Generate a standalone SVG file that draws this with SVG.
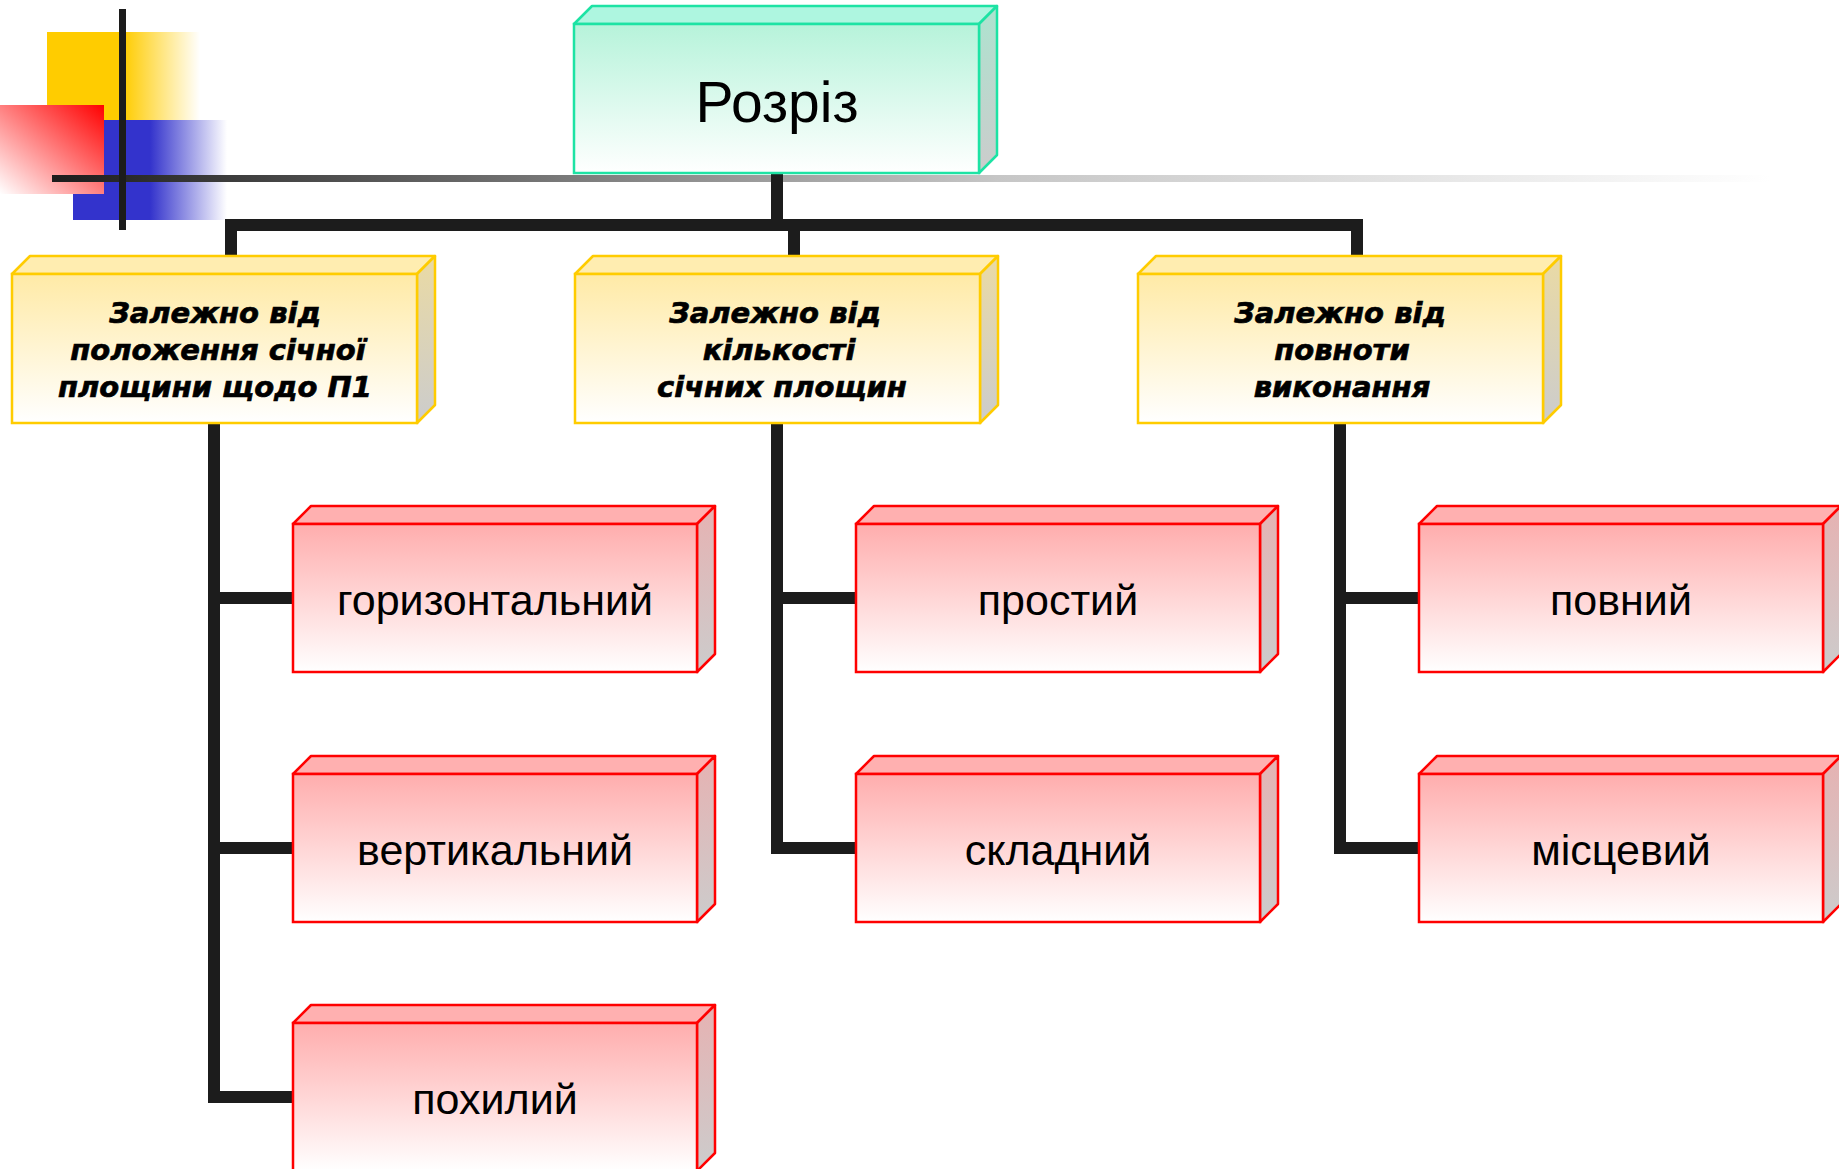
<svg xmlns="http://www.w3.org/2000/svg" width="1839" height="1169" viewBox="0 0 1839 1169">
<defs>
  <linearGradient id="yel" x1="0" y1="0" x2="1" y2="0">
    <stop offset="0" stop-color="#ffcc00"/>
    <stop offset="0.5" stop-color="#ffcc00"/>
    <stop offset="1" stop-color="#ffcc00" stop-opacity="0"/>
  </linearGradient>
  <linearGradient id="blu" x1="0" y1="0" x2="1" y2="0">
    <stop offset="0" stop-color="#3333cc"/>
    <stop offset="0.5" stop-color="#3333cc"/>
    <stop offset="1" stop-color="#3333cc" stop-opacity="0"/>
  </linearGradient>
  <linearGradient id="red" x1="1" y1="0" x2="0" y2="1">
    <stop offset="0" stop-color="#ff0000"/>
    <stop offset="1" stop-color="#ffffff"/>
  </linearGradient>
  <linearGradient id="hline" gradientUnits="userSpaceOnUse" x1="52" y1="0" x2="1770" y2="0">
    <stop offset="0" stop-color="#1c1c1c"/>
    <stop offset="0.3" stop-color="#7a7a7a"/>
    <stop offset="0.55" stop-color="#c6c6c6"/>
    <stop offset="1" stop-color="#ffffff"/>
  </linearGradient>
  <linearGradient id="gFront" x1="0" y1="0" x2="0" y2="1">
    <stop offset="0" stop-color="#b6f3da"/>
    <stop offset="1" stop-color="#ffffff"/>
  </linearGradient>
  <linearGradient id="gSide" x1="0" y1="0" x2="0" y2="1">
    <stop offset="0" stop-color="#ade3cf"/>
    <stop offset="1" stop-color="#cccccc"/>
  </linearGradient>
  <linearGradient id="yFront" x1="0" y1="0" x2="0" y2="1">
    <stop offset="0" stop-color="#ffeaa6"/>
    <stop offset="1" stop-color="#ffffff"/>
  </linearGradient>
  <linearGradient id="ySide" x1="0" y1="0" x2="0" y2="1">
    <stop offset="0" stop-color="#eadaa4"/>
    <stop offset="1" stop-color="#cccccc"/>
  </linearGradient>
  <linearGradient id="rFront" x1="0" y1="0" x2="0" y2="1">
    <stop offset="0" stop-color="#ffadad"/>
    <stop offset="1" stop-color="#ffffff"/>
  </linearGradient>
  <linearGradient id="rSide" x1="0" y1="0" x2="0" y2="1">
    <stop offset="0" stop-color="#e6b2b2"/>
    <stop offset="1" stop-color="#cccccc"/>
  </linearGradient>
</defs>
<style>
  .g .front{fill:url(#gFront);stroke:#1de3a4;stroke-width:2.5}
  .g .top{fill:#aef6e0;stroke:#1de3a4;stroke-width:2.5;stroke-linejoin:round}
  .g .side{fill:url(#gSide);stroke:#1de3a4;stroke-width:2.5;stroke-linejoin:round}
  .y .front{fill:url(#yFront);stroke:#ffcc00;stroke-width:2.5}
  .y .top{fill:#ffedb0;stroke:#ffcc00;stroke-width:2.5;stroke-linejoin:round}
  .y .side{fill:url(#ySide);stroke:#ffcc00;stroke-width:2.5;stroke-linejoin:round}
  .r .front{fill:url(#rFront);stroke:#ff0000;stroke-width:2.5}
  .r .top{fill:#ffb0b0;stroke:#ff0000;stroke-width:2.5;stroke-linejoin:round}
  .r .side{fill:url(#rSide);stroke:#ff0000;stroke-width:2.5;stroke-linejoin:round}
  .conn{fill:none;stroke:#1c1c1c;stroke-width:12;stroke-linejoin:miter;stroke-linecap:butt}
  .t0{font-family:"Liberation Sans",Arial,sans-serif;font-size:57px;fill:#000;text-anchor:middle}
  .t1{font-family:"DejaVu Sans",Verdana,sans-serif;font-size:29px;font-weight:bold;font-style:italic;fill:#000;stroke:#000;stroke-width:0.7;text-anchor:middle}
  .t2{font-family:"Liberation Sans",Arial,sans-serif;font-size:43px;fill:#000;text-anchor:middle}
</style>

<g id="decor">
  <rect x="47" y="32" width="153" height="88" fill="url(#yel)"/>
  <rect x="73" y="120" width="154" height="100" fill="url(#blu)"/>
  <rect x="0" y="105" width="104" height="89" fill="url(#red)"/>
  <rect x="52" y="175" width="1718" height="7" fill="url(#hline)"/>
  <rect x="119" y="9" width="7" height="221" fill="#1c1c1c"/>
</g>

<g id="connectors">
  <path class="conn" d="M777,173 V225"/>
  <path class="conn" d="M231,262 V225 H1357 V262"/>
  <path class="conn" d="M794,225 V262"/>
  <path class="conn" d="M214,423 V1097 H293"/>
  <path class="conn" d="M214,598 H293 M214,848 H293"/>
  <path class="conn" d="M777,423 V848 H856"/>
  <path class="conn" d="M777,598 H856"/>
  <path class="conn" d="M1340,423 V848 H1419"/>
  <path class="conn" d="M1340,598 H1419"/>
</g>

<g id="root" class="g">
  <polygon class="top" points="574,24 592,6 997,6 979,24"/>
  <polygon class="side" points="979,24 997,6 997,155 979,173"/>
  <rect class="front" x="574" y="24" width="405" height="149"/>
  <text class="t0" x="777" y="122">Розріз</text>
</g>

<g id="cat1" class="y">
  <polygon class="top" points="12,274 30,256 435,256 417,274"/>
  <polygon class="side" points="417,274 435,256 435,405 417,423"/>
  <rect class="front" x="12" y="274" width="405" height="149"/>
  <text class="t1" x="215" y="323">Залежно від</text>
  <text class="t1" x="218" y="360">положення січної</text>
  <text class="t1" x="215" y="397">площини щодо П1</text>
</g>

<g id="cat2" class="y">
  <polygon class="top" points="575,274 593,256 998,256 980,274"/>
  <polygon class="side" points="980,274 998,256 998,405 980,423"/>
  <rect class="front" x="575" y="274" width="405" height="149"/>
  <text class="t1" x="775" y="323">Залежно від</text>
  <text class="t1" x="779" y="360">кількості</text>
  <text class="t1" x="782" y="397">січних площин</text>
</g>

<g id="cat3" class="y">
  <polygon class="top" points="1138,274 1156,256 1561,256 1543,274"/>
  <polygon class="side" points="1543,274 1561,256 1561,405 1543,423"/>
  <rect class="front" x="1138" y="274" width="405" height="149"/>
  <text class="t1" x="1340" y="323">Залежно від</text>
  <text class="t1" x="1342" y="360">повноти</text>
  <text class="t1" x="1342" y="397">виконання</text>
</g>

<g id="horizontal" class="r">
  <polygon class="top" points="293,524 311,506 715,506 697,524"/>
  <polygon class="side" points="697,524 715,506 715,654 697,672"/>
  <rect class="front" x="293" y="524" width="404" height="148"/>
  <text class="t2" x="495" y="615">горизонтальний</text>
</g>

<g id="vertical" class="r">
  <polygon class="top" points="293,774 311,756 715,756 697,774"/>
  <polygon class="side" points="697,774 715,756 715,904 697,922"/>
  <rect class="front" x="293" y="774" width="404" height="148"/>
  <text class="t2" x="495" y="865">вертикальний</text>
</g>

<g id="inclined" class="r">
  <polygon class="top" points="293,1023 311,1005 715,1005 697,1023"/>
  <polygon class="side" points="697,1023 715,1005 715,1153 697,1171"/>
  <rect class="front" x="293" y="1023" width="404" height="148"/>
  <text class="t2" x="495" y="1114">похилий</text>
</g>

<g id="simple" class="r">
  <polygon class="top" points="856,524 874,506 1278,506 1260,524"/>
  <polygon class="side" points="1260,524 1278,506 1278,654 1260,672"/>
  <rect class="front" x="856" y="524" width="404" height="148"/>
  <text class="t2" x="1058" y="615">простий</text>
</g>

<g id="complex" class="r">
  <polygon class="top" points="856,774 874,756 1278,756 1260,774"/>
  <polygon class="side" points="1260,774 1278,756 1278,904 1260,922"/>
  <rect class="front" x="856" y="774" width="404" height="148"/>
  <text class="t2" x="1058" y="865">складний</text>
</g>

<g id="full" class="r">
  <polygon class="top" points="1419,524 1437,506 1841,506 1823,524"/>
  <polygon class="side" points="1823,524 1841,506 1841,654 1823,672"/>
  <rect class="front" x="1419" y="524" width="404" height="148"/>
  <text class="t2" x="1621" y="615">повний</text>
</g>

<g id="local" class="r">
  <polygon class="top" points="1419,774 1437,756 1841,756 1823,774"/>
  <polygon class="side" points="1823,774 1841,756 1841,904 1823,922"/>
  <rect class="front" x="1419" y="774" width="404" height="148"/>
  <text class="t2" x="1621" y="865">місцевий</text>
</g>
</svg>
